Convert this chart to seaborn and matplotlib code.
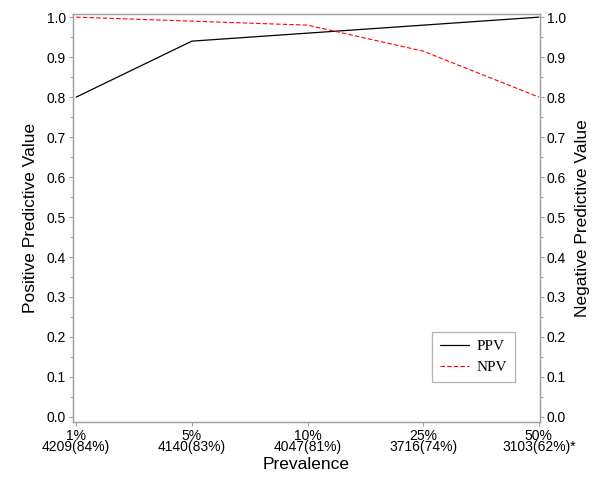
import pandas as pd
import matplotlib
matplotlib.use("Agg")
import matplotlib.pyplot as plt
import seaborn as sns
from matplotlib.ticker import MultipleLocator, FormatStrFormatter

# Data
prevalence = ["1%", "5%", "10%", "25%", "50%"]
counts = ["4209(84%)", "4140(83%)", "4047(81%)", "3716(74%)", "3103(62%)*"]
ppv = [0.80, 0.94, 0.96, 0.98, 1.00]
npv = [1.00, 0.99, 0.98, 0.915, 0.80]

df = pd.DataFrame({"pos": range(len(prevalence)), "PPV": ppv, "NPV": npv})
tick_labels = [f"{p}\n{c}" for p, c in zip(prevalence, counts)]

sns.set_style("ticks")
plt.rcParams["font.family"] = ["Liberation Sans", "DejaVu Sans"]
plt.rcParams["text.color"] = "black"
plt.rcParams["axes.labelcolor"] = "black"
plt.rcParams["xtick.labelcolor"] = "black"
plt.rcParams["ytick.labelcolor"] = "black"

fig = plt.figure(figsize=(6.01, 4.84), dpi=100)
ax = fig.add_axes([0.121, 0.1287, 0.7775, 0.8433])
ax2 = ax.twinx()

sns.lineplot(data=df, x="pos", y="PPV", ax=ax, color="black", lw=0.9, label="PPV", legend=False)
sns.lineplot(data=df, x="pos", y="NPV", ax=ax2, color="red", lw=0.8, label="NPV", legend=False)
ax2.lines[0].set_dashes((4, 2))

spine_col = "#a0a0a0"
for a in (ax, ax2):
    a.set_xlim(-0.03, 4.01)
    a.set_ylim(-0.012, 1.009)
    a.yaxis.set_major_locator(MultipleLocator(0.1))
    a.yaxis.set_minor_locator(MultipleLocator(0.05))
    a.yaxis.set_major_formatter(FormatStrFormatter("%.1f"))
    for s in a.spines.values():
        s.set_color(spine_col)
        s.set_linewidth(0.9)
    a.tick_params(which="major", length=3, width=0.8, color=spine_col, labelsize=10, pad=2)
    a.tick_params(which="minor", length=2, width=0.8, color=spine_col)

ax.set_xticks(df["pos"])
ax.set_xticklabels(tick_labels, linespacing=0.8)
ax.set_xlabel("Prevalence", fontsize=12.5, labelpad=2)
ax.set_ylabel("Positive Predictive Value", fontsize=12.5, labelpad=6)
ax2.set_ylabel("Negative Predictive Value", fontsize=12.5, labelpad=6)

handles = ax.get_lines()[:1] + ax2.get_lines()[:1]
leg = ax2.legend(handles, ["PPV", "NPV"], loc="lower right", bbox_to_anchor=(0.946, 0.097),
                 prop={"family": "Liberation Serif", "size": 11}, frameon=True,
                 fancybox=False, handlelength=1.9, borderpad=0.5, labelspacing=0.5,
                 handletextpad=0.5, borderaxespad=0)
leg.get_frame().set_edgecolor(spine_col)
leg.get_frame().set_linewidth(0.9)

fig.savefig("out.png", dpi=100)
